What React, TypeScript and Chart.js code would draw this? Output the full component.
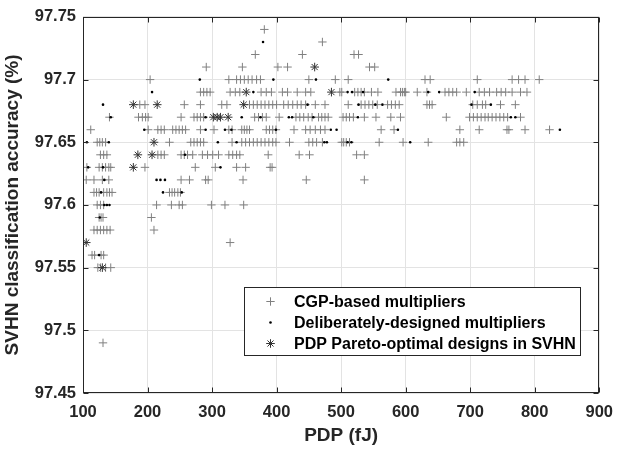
import React, { useEffect, useRef } from "react";
import { Chart, registerables } from "chart.js";

Chart.register(...registerables);

const FONT = '"Liberation Sans", Arial, Helvetica, sans-serif';

const SERIES_LABELS = [
  "CGP-based multipliers",
  "Deliberately-designed multipliers",
  "PDP Pareto-optimal designs in SVHN",
];

// CGP-based multipliers: accuracy levels and the PDP values found on each level
const cgpAcc = [97.74, 97.73, 97.72, 97.71, 97.7, 97.69, 97.68, 97.67, 97.66, 97.65, 97.64, 97.63, 97.62, 97.61, 97.6, 97.59, 97.58, 97.57, 97.56, 97.55, 97.49];
const cgpPdp = [
  [381],
  [471],
  [367, 440, 520, 527],
  [291, 347, 402, 417, 544, 552],
  [204, 326, 338, 344, 350, 356, 362, 369, 375, 450, 491, 511, 630, 638, 711, 765, 775, 785, 807],
  [282, 287, 292, 297, 328, 336, 343, 376, 384, 392, 409, 417, 432, 445, 453, 498, 501, 521, 526, 531, 536, 547, 557, 585, 592, 595, 598, 600, 618, 633, 661, 667, 673, 679, 694, 714, 722, 730, 741, 748, 755, 765, 778, 788],
  [188, 196, 257, 282, 315, 323, 358, 364, 370, 376, 382, 388, 394, 400, 411, 418, 425, 432, 438, 445, 460, 475, 511, 531, 537, 543, 549, 556, 572, 578, 584, 590, 633, 637, 641, 704, 711, 719, 724, 747, 770],
  [141, 186, 192, 197, 201, 252, 272, 277, 282, 287, 366, 372, 378, 384, 404, 430, 436, 442, 449, 455, 465, 470, 475, 480, 503, 508, 513, 519, 536, 554, 577, 592, 663, 699, 705, 711, 717, 723, 728, 734, 740, 746, 752, 758, 778],
  [112, 201, 216, 221, 226, 239, 244, 249, 254, 259, 282, 303, 326, 331, 346, 350, 354, 358, 384, 389, 394, 399, 427, 445, 452, 460, 468, 475, 562, 582, 684, 714, 757, 760, 785, 823],
  [122, 126, 130, 135, 234, 267, 272, 277, 282, 287, 331, 346, 352, 358, 364, 370, 376, 382, 388, 394, 399, 420, 450, 456, 462, 471, 501, 504, 508, 513, 559, 596, 635, 679, 684, 690],
  [127, 132, 137, 216, 221, 226, 252, 257, 262, 270, 285, 293, 301, 310, 326, 332, 338, 343, 387, 435, 451, 524, 536],
  [106, 125, 130, 135, 140, 143, 196, 274, 305, 338, 352, 390, 393],
  [105, 117, 130, 140, 252, 265, 290, 294, 348, 446, 536],
  [117, 121, 125, 132, 137, 141, 145, 234, 238, 242, 247, 251],
  [122, 127, 132, 214, 237, 249, 254, 299, 320, 349],
  [125, 128, 131, 206],
  [117, 122, 127, 132, 137, 142, 210],
  [328],
  [114, 118, 128, 132],
  [123, 127, 135, 143],
  [131],
];

// Deliberately-designed multipliers
const delAcc = [97.73, 97.7, 97.69, 97.68, 97.67, 97.66, 97.65, 97.64, 97.63, 97.62, 97.61, 97.6, 97.59, 97.56];
const delPdp = [
  [379],
  [281, 395, 461, 573],
  [207, 364, 510, 517, 534, 635, 652, 707],
  [131, 448, 527, 553, 564, 702, 732],
  [143, 290, 346, 375, 419, 424, 457, 526, 763, 770],
  [195, 290, 320, 330, 399, 484, 493, 588, 839],
  [106, 140, 309, 338, 474, 478, 510, 516, 607],
  [258],
  [108, 131, 313],
  [133, 214, 220, 227],
  [128, 224, 253],
  [133, 137, 141],
  [126],
  [125],
];

// PDP Pareto-optimal designs in SVHN
const parAcc = [97.71, 97.69, 97.68, 97.67, 97.65, 97.64, 97.63, 97.57, 97.55];
const parPdp = [
  [459],
  [353, 485],
  [178, 215, 349],
  [302, 308, 313, 325],
  [210],
  [185, 207],
  [178],
  [105],
  [130],
];

const X_MIN = 100;
const X_MAX = 900;
const X_STEP = 100;
const Y_MIN = 97.45;
const Y_MAX = 97.75;
const Y_STEP = 0.05;

function toPoints(acc: number[], pdp: number[][]) {
  const pts: { x: number; y: number }[] = [];
  acc.forEach((a, i) => pdp[i].forEach((x) => pts.push({ x, y: a })));
  return pts;
}

const AXIS_COLOR = "#262626";

function drawMarker(ctx: CanvasRenderingContext2D, kind: number, x: number, y: number) {
  ctx.save();
  if (kind === 0) {
    ctx.strokeStyle = "rgb(128,128,128)";
    ctx.lineWidth = 1;
    ctx.beginPath();
    ctx.moveTo(x - 4.2, y);
    ctx.lineTo(x + 4.2, y);
    ctx.moveTo(x, y - 4.2);
    ctx.lineTo(x, y + 4.2);
    ctx.stroke();
  } else if (kind === 1) {
    ctx.fillStyle = "#000";
    ctx.beginPath();
    ctx.arc(x, y, 1.3, 0, Math.PI * 2);
    ctx.fill();
  } else {
    ctx.strokeStyle = "#333";
    ctx.lineWidth = 1;
    ctx.beginPath();
    const r = 4.3;
    for (let k = 0; k < 4; k++) {
      const ang = (k * Math.PI) / 4;
      ctx.moveTo(x - Math.cos(ang) * r, y - Math.sin(ang) * r);
      ctx.lineTo(x + Math.cos(ang) * r, y + Math.sin(ang) * r);
    }
    ctx.stroke();
  }
  ctx.restore();
}

const framePlugin = {
  id: "matlabFrame",
  afterDatasetsDraw(chart: any) {
    const { ctx, chartArea: a, scales } = chart;
    const xs = scales.x;
    const ys = scales.y;
    const L = Math.round(a.left) + 0.5;
    const R = Math.round(a.right) - 0.5;
    const T = Math.round(a.top) + 0.5;
    const B = Math.round(a.bottom) - 0.5;
    ctx.save();
    ctx.strokeStyle = AXIS_COLOR;
    ctx.lineWidth = 1;
    ctx.beginPath();
    xs.ticks.forEach((t: any) => {
      const px = Math.round(xs.getPixelForValue(t.value)) + 0.5;
      ctx.moveTo(px, B);
      ctx.lineTo(px, B - 5);
      ctx.moveTo(px, T);
      ctx.lineTo(px, T + 5);
    });
    ys.ticks.forEach((t: any) => {
      const py = Math.round(ys.getPixelForValue(t.value)) + 0.5;
      ctx.moveTo(L, py);
      ctx.lineTo(L + 5, py);
      ctx.moveTo(R, py);
      ctx.lineTo(R - 5, py);
    });
    ctx.stroke();
    ctx.strokeRect(L, T, R - L, B - T);

    // legend box
    const lx = 244.5, ly = 287.5, lw = 336, lh = 68;
    ctx.fillStyle = "#fff";
    ctx.fillRect(lx, ly, lw, lh);
    ctx.strokeStyle = AXIS_COLOR;
    ctx.strokeRect(lx, ly, lw, lh);
    const rows = [301.5, 322.5, 343.5];
    ctx.font = `bold 16px ${FONT}`;
    ctx.textBaseline = "middle";
    ctx.textAlign = "left";
    chart.data.datasets.forEach((ds: any, i: number) => {
      drawMarker(ctx, i, 270.5, rows[i]);
      ctx.fillStyle = "#000";
      ctx.fillText(ds.label, 294, rows[i] + 1);
    });
    ctx.restore();
  },
};

export default function App() {
  const ref = useRef<HTMLCanvasElement>(null);
  useEffect(() => {
    document.body.style.margin = "0";
    document.body.style.overflow = "hidden";
    const chart = new Chart(ref.current as HTMLCanvasElement, {
      type: "scatter",
      data: {
        datasets: [
          {
            label: SERIES_LABELS[0],
            data: toPoints(cgpAcc, cgpPdp),
            pointStyle: "cross",
            pointRadius: 4.2,
            borderColor: "rgb(128,128,128)",
            backgroundColor: "rgba(0,0,0,0)",
            borderWidth: 1,
            order: 3,
          },
          {
            label: SERIES_LABELS[1],
            data: toPoints(delAcc, delPdp),
            pointStyle: "circle",
            pointRadius: 1.3,
            borderWidth: 0,
            borderColor: "#000",
            backgroundColor: "#000",
            order: 2,
          },
          {
            label: SERIES_LABELS[2],
            data: toPoints(parAcc, parPdp),
            pointStyle: "star",
            pointRadius: 4.3,
            borderColor: "#333",
            backgroundColor: "rgba(0,0,0,0)",
            borderWidth: 1,
            order: 1,
          },
        ],
      },
      options: {
        animation: false,
        responsive: false,
        devicePixelRatio: 1,
        events: [],
        layout: { padding: { top: 13, right: 15, left: 0, bottom: 0 } },
        plugins: { legend: { display: false }, tooltip: { enabled: false } },
        scales: {
          x: {
            type: "linear",
            position: "bottom",
            min: X_MIN,
            max: X_MAX,
            afterFit: (s: any) => {
              s.height = 56;
            },
            ticks: {
              stepSize: X_STEP,
              color: AXIS_COLOR,
              font: { family: FONT, size: 16.5, weight: "bold" },
              padding: 10,
              maxRotation: 0,
              autoSkip: false,
            },
            grid: { color: "#e3e3e3", drawTicks: false, lineWidth: 1 },
            border: { display: false },
            title: {
              display: true,
              text: "PDP (fJ)",
              color: AXIS_COLOR,
              font: { family: FONT, size: 19, weight: "bold" },
              padding: { top: 0, bottom: 2 },
            },
          },
          y: {
            type: "linear",
            min: Y_MIN,
            max: Y_MAX,
            afterFit: (s: any) => {
              s.width = 83;
            },
            ticks: {
              stepSize: Y_STEP,
              color: AXIS_COLOR,
              font: { family: FONT, size: 16.5, weight: "bold" },
              padding: 7,
              autoSkip: false,
              callback: (v: any) => Number(v).toFixed(2).replace(/0$/, "").replace(/\.$/, ""),
            },
            grid: { color: "#e3e3e3", drawTicks: false, lineWidth: 1 },
            border: { display: false },
            title: {
              display: true,
              text: "SVHN classification accuracy (%)",
              color: AXIS_COLOR,
              font: { family: FONT, size: 19, weight: "bold" },
              padding: { top: 1, bottom: 0 },
            },
          },
        },
      },
      plugins: [framePlugin],
    } as any);
    return () => chart.destroy();
  }, []);
  return (
    <div style={{ width: 623, height: 449, background: "#fff" }}>
      <canvas ref={ref} width={623} height={449} style={{ display: "block" }} />
    </div>
  );
}
